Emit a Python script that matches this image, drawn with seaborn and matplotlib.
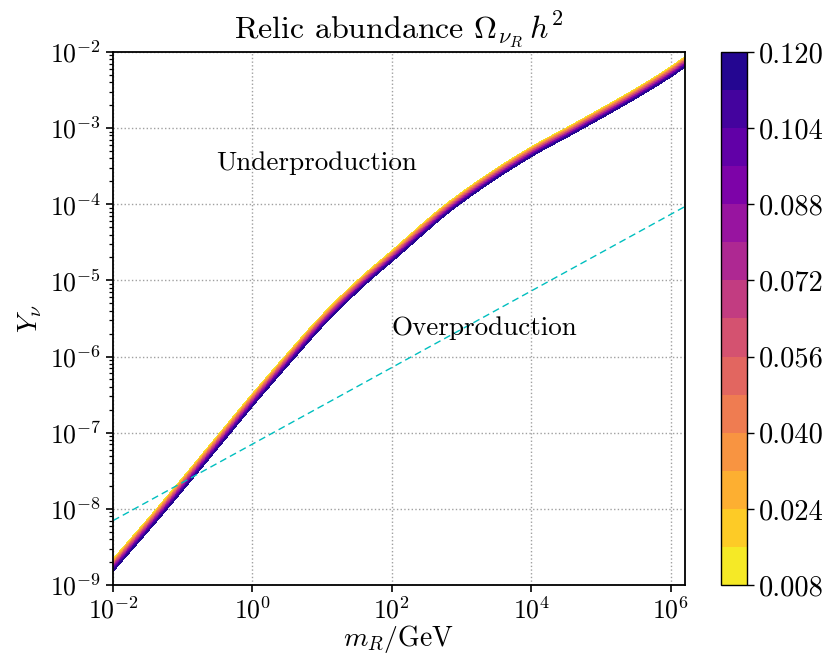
import numpy as np
import matplotlib
matplotlib.use("Agg")
import matplotlib.pyplot as plt
from matplotlib.ticker import LogLocator, NullLocator, FormatStrFormatter
import seaborn as sns

# Contour centre line of the relic abundance band (log10 m_R / GeV, log10 Y_nu)
curve_log_m = [-2.0, -1.30, -0.39, 0.0, 0.54, 1.0, 1.57, 2.0, 2.87, 4.0, 4.62, 6.0, 6.2]
curve_log_Y = [-8.74, -8.0, -7.0, -6.57, -6.0, -5.53, -5.02, -4.68, -4.0, -3.31, -3.0, -2.26, -2.13]

# Contour levels of Omega h^2 and colour-bar ticks
omega_levels = np.round(np.arange(0.008, 0.1201, 0.008), 3)
cbar_ticks = np.round(np.arange(0.008, 0.1201, 0.016), 3)

# Reference line (dashed)
dash_m = [1e-2, 1.58e6]
dash_Y = [7e-9, 9.3e-5]

# Text labels for the two regions
label_under = ("Underproduction", 0.3, 2.8e-4)
label_over = ("Overproduction", 1e2, 1.9e-6)

x_range = (1e-2, 1.58e6)
y_range = (1e-9, 1e-2)
x_ticks = [1e-2, 1e0, 1e2, 1e4, 1e6]
y_ticks = [1e-9, 1e-8, 1e-7, 1e-6, 1e-5, 1e-4, 1e-3, 1e-2]


def hermite(xq, xs, ys):
    """Monotone cubic Hermite interpolation through the points (xs, ys)."""
    xs = np.asarray(xs, float)
    ys = np.asarray(ys, float)
    h = np.diff(xs)
    delta = np.diff(ys) / h
    m = np.empty_like(ys)
    m[0], m[-1] = delta[0], delta[-1]
    for i in range(1, len(xs) - 1):
        if delta[i - 1] * delta[i] <= 0:
            m[i] = 0.0
        else:
            w1 = 2 * h[i] + h[i - 1]
            w2 = h[i] + 2 * h[i - 1]
            m[i] = (w1 + w2) / (w1 / delta[i - 1] + w2 / delta[i])
    idx = np.clip(np.searchsorted(xs, xq) - 1, 0, len(xs) - 2)
    t = (xq - xs[idx]) / h[idx]
    h00 = 2 * t**3 - 3 * t**2 + 1
    h10 = t**3 - 2 * t**2 + t
    h01 = -2 * t**3 + 3 * t**2
    h11 = t**3 - t**2
    return (h00 * ys[idx] + h10 * h[idx] * m[idx]
            + h01 * ys[idx + 1] + h11 * h[idx] * m[idx + 1])


sns.set_style("ticks")
plt.rcParams.update({
    "font.family": "serif",
    "font.serif": ["cmr10"],
    "mathtext.fontset": "cm",
    "axes.formatter.use_mathtext": True,
    "axes.unicode_minus": False,
    "axes.linewidth": 1.3,
    "xtick.major.width": 1.2,
    "ytick.major.width": 1.2,
    "ytick.minor.width": 0.9,
    "xtick.major.size": 5,
    "ytick.major.size": 5,
    "ytick.minor.size": 3,
    "xtick.color": "black",
    "ytick.color": "black",
    "xtick.labelcolor": "black",
    "ytick.labelcolor": "black",
    "text.color": "black",
    "axes.labelcolor": "black",
    "axes.titlecolor": "black",
    "axes.edgecolor": "black",
})

fig = plt.figure(figsize=(8.25, 6.57), dpi=100)
ax = fig.add_axes([0.137, 0.1096, 0.693, 0.8113])
cax = fig.add_axes([0.874, 0.1096, 0.0315, 0.8113])

# Omega h^2 table on a (log m, log Y) grid built around the centre line
lm = np.linspace(np.log10(x_range[0]), np.log10(x_range[1]), 300)
ly = np.linspace(np.log10(y_range[0]), np.log10(y_range[1]), 700)
LM, LY = np.meshgrid(lm, ly)
yc = hermite(lm, curve_log_m, curve_log_Y)
slope = np.gradient(yc, lm)
d_perp = (LY - yc[None, :]) / np.sqrt(1.0 + slope[None, :] ** 2)
band_w = 0.115
omega = 0.064 - 0.112 * d_perp / band_w

cs = ax.contourf(10 ** LM, 10 ** LY, omega, levels=omega_levels, cmap="plasma_r")

sns.lineplot(x=dash_m, y=dash_Y, ax=ax, color="c", lw=1.0, linestyle=(0, (5, 3)))

ax.set_xscale("log")
ax.set_yscale("log")
ax.set_xticks(x_ticks)
ax.set_yticks(y_ticks)
ax.xaxis.set_minor_locator(NullLocator())
ax.yaxis.set_minor_locator(LogLocator(base=10, subs=np.arange(2, 10), numticks=20))
ax.set_xlim(*x_range)
ax.set_ylim(*y_range)

ax.grid(True, which="major", linestyle=":", color="#a0a0a0", linewidth=1.0)
ax.tick_params(axis="both", which="major", labelsize=18.5)

for txt, x, y in (label_under, label_over):
    ax.text(x, y, txt, fontsize=19.5, color="black")

ax.set_xlabel(r"$m_R/\mathrm{GeV}$", fontsize=20, labelpad=0)
ax.set_ylabel(r"$Y_\nu$", fontsize=20, labelpad=4)
ax.set_title(r"Relic abundance $\Omega_{\nu_R}\, h^2$", fontsize=23, pad=10)

cbar = fig.colorbar(cs, cax=cax, ticks=cbar_ticks)
cbar.ax.yaxis.set_major_formatter(FormatStrFormatter("%.3f"))
cbar.ax.tick_params(labelsize=20.5, length=5, width=1.0, labelcolor="black")
cbar.outline.set_linewidth(1.0)

fig.savefig("out.png", dpi=100)
